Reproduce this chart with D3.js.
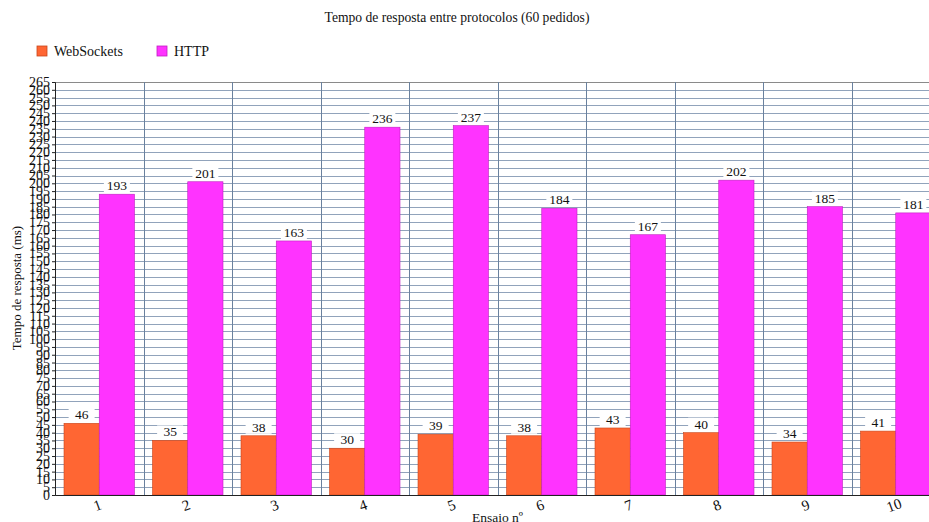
<!DOCTYPE html>
<html>
<head>
<meta charset="utf-8">
<script src="https://cdn.jsdelivr.net/npm/d3@7"></script>
<style>
  body { margin: 0; background: #fff; }
  text { font-family: "Liberation Serif", "DejaVu Serif", serif; fill: #111; }
</style>
</head>
<body>
<script>
// chart data
var ensaios = ["1", "2", "3", "4", "5", "6", "7", "8", "9", "10"];
var series = ["WebSockets", "HTTP"];
var websockets = [46, 35, 38, 30, 39, 38, 43, 40, 34, 41];
var http = [193, 201, 163, 236, 237, 184, 167, 202, 185, 181];
var colors = ["#ff6633", "#ff33ff"];
var strokes = ["#c8461c", "#c020c0"];

var width = 929, height = 522;
// plot box (right side runs past the window, as in the reference)
var plotLeft = 55, plotRight = 940, plotTop = 82, plotBottom = 495;

var svg = d3.select("body").append("svg")
  .attr("width", width)
  .attr("height", height);

// scales
var x0 = d3.scaleBand().domain(ensaios).range([plotLeft, plotRight]);
var pad = 9;
var x1 = d3.scaleBand().domain(series).range([pad, x0.bandwidth() - pad]);
var y = d3.scaleLinear().domain([0, 265]).range([plotBottom, plotTop]);
var ticks = d3.range(0, 266, 5);

// horizontal grid
svg.append("g").selectAll("line")
  .data(ticks)
  .enter().append("line")
  .attr("x1", plotLeft).attr("x2", plotRight)
  .attr("y1", function(d) { return Math.round(y(d)) + 0.5; })
  .attr("y2", function(d) { return Math.round(y(d)) + 0.5; })
  .style("stroke", function(d) { return d == 265 ? "#8a8a8a" : "#91a3bb"; })
  .style("stroke-width", 1);

// vertical grid at category boundaries
svg.append("g").selectAll("line")
  .data(ensaios.slice(1))
  .enter().append("line")
  .attr("x1", function(d) { return Math.round(x0(d)) + 0.5; })
  .attr("x2", function(d) { return Math.round(x0(d)) + 0.5; })
  .attr("y1", plotTop).attr("y2", plotBottom)
  .style("stroke", "#6a819e")
  .style("stroke-width", 1);

// bars
var rows = ensaios.map(function(e, i) {
  return { ensaio: e, values: [websockets[i], http[i]] };
});

var groups = svg.append("g").selectAll("g")
  .data(rows)
  .enter().append("g")
  .attr("transform", function(d) { return "translate(" + x0(d.ensaio) + ",0)"; });

function pairs(d) {
  return d.values.map(function(v, i) { return { s: series[i], v: v, i: i }; });
}

groups.selectAll("rect")
  .data(pairs)
  .enter().append("rect")
  .attr("x", function(d) { return x1(d.s); })
  .attr("width", x1.bandwidth())
  .attr("y", function(d) { return y(d.v); })
  .attr("height", function(d) { return plotBottom - y(d.v); })
  .style("fill", function(d) { return colors[d.i]; })
  .style("stroke", function(d) { return strokes[d.i]; })
  .style("stroke-width", 0.6);

// value labels with white boxes
var labels = groups.selectAll("g.lbl")
  .data(pairs)
  .enter().append("g").attr("class", "lbl");

labels.append("rect")
  .attr("x", function(d) { return x1(d.s) + x1.bandwidth() / 2 - 13; })
  .attr("y", function(d) { return y(d.v) - 15; })
  .attr("width", 26).attr("height", 13)
  .style("fill", "#fff");

labels.append("text")
  .attr("x", function(d) { return x1(d.s) + x1.bandwidth() / 2; })
  .attr("y", function(d) { return y(d.v) - 4; })
  .attr("text-anchor", "middle")
  .style("font-size", "13.5px")
  .text(function(d) { return d.v; });

// y axis
var yAxis = svg.append("g")
  .attr("transform", "translate(" + plotLeft + ",0)")
  .call(d3.axisLeft(y).tickValues(ticks).tickSize(3).tickPadding(2));
yAxis.selectAll("text")
  .style("font-family", "'Liberation Serif', serif")
  .style("font-size", "14px")
  .style("fill", "#111");
yAxis.select(".domain").style("stroke", "#222");
yAxis.selectAll(".tick line").style("stroke", "#222");

// x axis
var xAxis = svg.append("g")
  .attr("transform", "translate(0," + plotBottom + ")")
  .call(d3.axisBottom(x0).tickSize(0).tickPadding(0));
xAxis.select(".domain").style("stroke", "#222");
xAxis.selectAll("text")
  .style("font-family", "'Liberation Serif', serif")
  .style("font-size", "15px")
  .style("fill", "#111")
  .attr("dy", null)
  .attr("y", 0)
  .attr("text-anchor", "middle")
  .attr("transform", "translate(0,15) rotate(-20)");

// axis titles
svg.append("text")
  .attr("x", (plotLeft + plotRight) / 2)
  .attr("y", 522)
  .attr("text-anchor", "middle")
  .style("font-size", "13.5px")
  .text("Ensaio nº");

svg.append("text")
  .attr("transform", "translate(21,288) rotate(-90)")
  .attr("text-anchor", "middle")
  .style("font-size", "13px")
  .text("Tempo de resposta (ms)");

// title
svg.append("text")
  .attr("x", 457)
  .attr("y", 22)
  .attr("text-anchor", "middle")
  .style("font-size", "13.6px")
  .text("Tempo de resposta entre protocolos (60 pedidos)");

// legend
var legendX = [37, 157];
var legend = svg.append("g").selectAll("g")
  .data(series)
  .enter().append("g")
  .attr("transform", function(d, i) { return "translate(" + legendX[i] + ",46)"; });

legend.append("rect")
  .attr("width", 10).attr("height", 10)
  .style("fill", function(d, i) { return colors[i]; })
  .style("stroke", function(d, i) { return strokes[i]; })
  .style("stroke-width", 0.8);

legend.append("text")
  .attr("x", 17).attr("y", 10)
  .style("font-size", "14px")
  .text(function(d) { return d; });
</script>
</body>
</html>
